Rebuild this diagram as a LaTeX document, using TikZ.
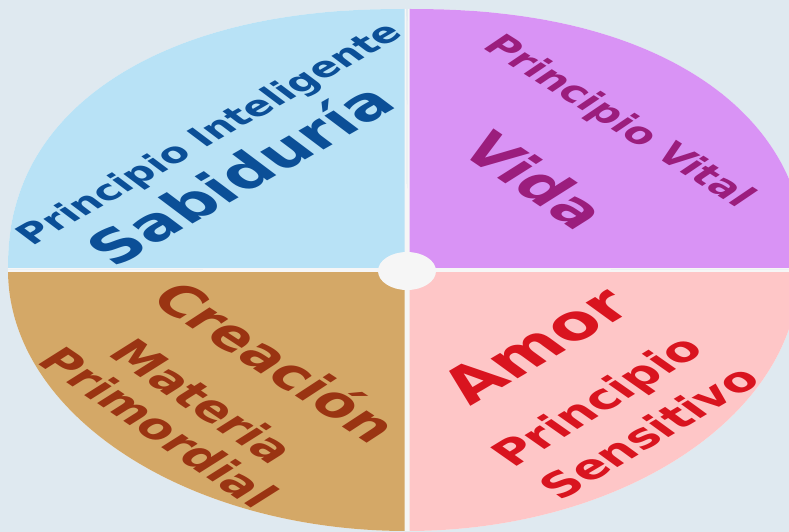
\documentclass[tikz,border=0pt]{standalone}
\usepackage{fontspec}
\setmainfont{DejaVu Sans}
\definecolor{bgc}{HTML}{DFE9F0}
\definecolor{qblue}{HTML}{B8E2F6}
\definecolor{qpurple}{HTML}{D993F5}
\definecolor{qbrown}{HTML}{D4A867}
\definecolor{qpink}{HTML}{FEC6C7}
\definecolor{tblue}{HTML}{0B4F97}
\definecolor{tpurple}{HTML}{9B1D7D}
\definecolor{tbrown}{HTML}{9A3412}
\definecolor{tred}{HTML}{D9141F}
\definecolor{gapc}{HTML}{F6F6F6}
\newcommand\fitw[2]{\resizebox{#1pt}{!}{\bfseries #2}}
\tikzset{lbl/.style={inner sep=0pt, outer sep=0pt, transform shape, anchor=center}}
\begin{document}
\begin{tikzpicture}[x=1pt,y=1pt]
\fill[bgc] (0,0) rectangle (789,-532);
\useasboundingbox (0,0) rectangle (789,-532);
% white underlay
\fill[gapc] (407,-270) -- plot[domain=0.05:89.95, samples=120] ({407-399*pow(cos(\x),0.889)},{-270+261*pow(sin(\x),0.889)}) -- cycle;
\fill[gapc] (407,-270) -- plot[domain=0.05:89.95, samples=120] ({407+399*pow(cos(\x),0.889)},{-270+261*pow(sin(\x),0.889)}) -- cycle;
\begin{scope}
  \clip (0,-270) rectangle (407,-540);
  \fill[gapc] (407,-270) ellipse [x radius=399, y radius=261];
\end{scope}
\begin{scope}
  \clip (407,-270) rectangle (800,-540);
  \fill[gapc] (407,-270) ellipse [x radius=392, y radius=261];
\end{scope}
% quadrants
\begin{scope}
  \clip (0,-267.5) rectangle (404.5,10);
  \fill[qblue] (407,-270) -- plot[domain=0.05:89.95, samples=120] ({407-399*pow(cos(\x),0.889)},{-270+261*pow(sin(\x),0.889)}) -- cycle;
\end{scope}
\begin{scope}
  \clip (409.5,-267.5) rectangle (800,10);
  \fill[qpurple] (407,-270) -- plot[domain=0.05:89.95, samples=120] ({407+399*pow(cos(\x),0.889)},{-270+261*pow(sin(\x),0.889)}) -- cycle;
\end{scope}
\begin{scope}
  \clip (0,-272.5) rectangle (404.5,-540);
  \fill[qbrown] (407,-270) ellipse [x radius=399, y radius=261];
\end{scope}
\begin{scope}
  \clip (409.5,-272.5) rectangle (800,-540);
  \fill[qpink] (407,-270) ellipse [x radius=392, y radius=261];
\end{scope}
\fill[gapc] (407,-271) ellipse [x radius=29, y radius=19];
\begin{scope}[shift={(407,-270)}, xscale=1.53]
  % upper left
  \node[lbl, text=tblue, rotate=41] (pint) at (-128,135) {\fitw{322}{Principio Inteligente}};
  \node[lbl, text=tblue, rotate=41] (sab) at (-110,96) {\fitw{246}{Sabiduría}};
  % upper right
  \node[lbl, text=tpurple, rotate=-44] (pvit) at (138,148) {\fitw{232}{Principio Vital}};
  \node[lbl, text=tpurple, rotate=-46] (vida) at (84,90) {\fitw{112}{Vida}};
  % lower left
  \node[lbl, text=tbrown, rotate=-45] (crea) at (-85,-91) {\fitw{205}{Creación}};
  \node[lbl, text=tbrown, rotate=-46] (mat) at (-133,-131) {\fitw{155}{Materia}};
  \node[lbl, text=tbrown, rotate=-46] (prim) at (-162,-157) {\fitw{205}{Primordial}};
  % lower right
  \node[lbl, text=tred, rotate=42] (amor) at (84,-75) {\fitw{145}{Amor}};
  \node[lbl, text=tred, rotate=43] (psen) at (126,-133) {\fitw{172}{Principio}};
  \node[lbl, text=tred, rotate=42] (sens) at (158,-162) {\fitw{178}{Sensitivo}};
\end{scope}
\end{tikzpicture}
\end{document}
